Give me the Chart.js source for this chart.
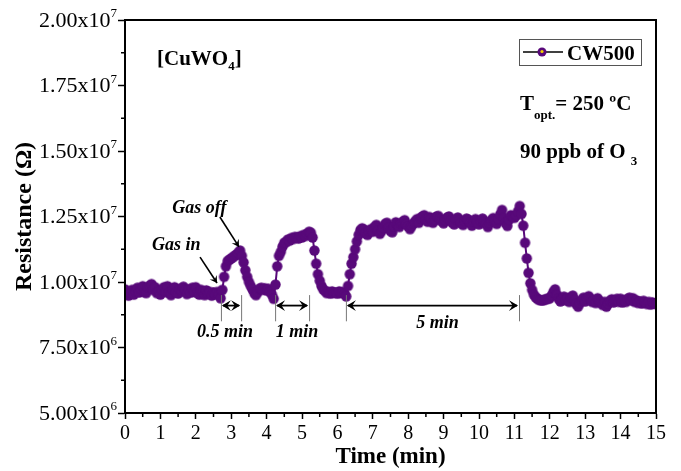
<!DOCTYPE html>
<html>
<head>
<meta charset="utf-8">
<script src="https://cdn.jsdelivr.net/npm/chart.js@4.4.1/dist/chart.umd.min.js"></script>
<style>
  html, body { margin: 0; padding: 0; background: #fff; }
  #wrap { width: 681px; height: 471px; }
</style>
</head>
<body>
<div id="wrap"><canvas id="sensorChart" width="681" height="471"></canvas></div>
<script>
// --- data ---
// readings logged every 3 s (0.05 min), resistance in MOhm
const TIME_STEP = 0.05;
const resistanceMOhm = [
  9.72, 9.55, 9.48, 9.62, 9.70, 9.52, 9.66, 9.78, 9.60, 9.74, 9.84, 9.62, 9.58, 9.80, 9.86, 9.92, 9.70, 9.80, 9.58, 9.66,
  9.52, 9.70, 9.80, 9.62, 9.84, 9.58, 9.50, 9.72, 9.80, 9.60, 9.56, 9.74, 9.64, 9.82, 9.68, 9.54, 9.72, 9.60, 9.78, 9.62,
  9.80, 9.58, 9.52, 9.70, 9.64, 9.50, 9.68, 9.56, 9.62, 9.48, 9.60, 9.54, 9.62, 9.50, 9.38, 9.70, 10.20, 10.60, 10.80, 10.85,
  10.90, 10.95, 11.00, 11.05, 11.12, 11.20, 11.00, 10.75, 10.45, 10.20, 10.00, 9.85, 9.72, 9.58, 9.50, 9.62, 9.74, 9.78, 9.70, 9.76,
  9.68, 9.74, 9.62, 9.52, 9.36, 9.90, 10.60, 11.00, 11.15, 11.35, 11.50, 11.52, 11.62, 11.58, 11.68, 11.64, 11.72, 11.70, 11.66, 11.75,
  11.70, 11.80, 11.76, 11.85, 11.92, 11.88, 11.70, 11.20, 10.70, 10.30, 10.05, 9.85, 9.72, 9.66, 9.58, 9.62, 9.56, 9.64, 9.58, 9.60,
  9.56, 9.64, 9.58, 9.62, 9.56, 9.45, 9.85, 10.30, 10.70, 10.95, 11.25, 11.55, 11.80, 11.98, 12.05, 12.00, 11.86, 11.80, 11.95, 12.02,
  11.92, 12.10, 12.18, 11.96, 11.84, 11.96, 12.08, 12.22, 12.26, 12.08, 11.95, 11.90, 12.12, 12.28, 12.18, 12.10, 12.24, 12.30, 12.36, 12.20,
  12.12, 12.02, 12.14, 12.24, 12.32, 12.40, 12.26, 12.44, 12.50, 12.55, 12.38, 12.30, 12.48, 12.42, 12.26, 12.36, 12.50, 12.52, 12.40, 12.32,
  12.24, 12.38, 12.46, 12.50, 12.34, 12.26, 12.20, 12.40, 12.46, 12.36, 12.24, 12.18, 12.34, 12.42, 12.38, 12.26, 12.15, 12.30, 12.40, 12.28,
  12.20, 12.34, 12.42, 12.30, 12.22, 12.10, 12.26, 12.36, 12.44, 12.32, 12.22, 12.40, 12.58, 12.75, 12.45, 12.26, 12.14, 12.38, 12.55, 12.50,
  12.45, 12.55, 12.70, 12.90, 12.60, 12.15, 11.50, 10.90, 10.35, 9.95, 9.70, 9.52, 9.42, 9.36, 9.32, 9.30, 9.30, 9.32, 9.35, 9.36,
  9.38, 9.48, 9.62, 9.72, 9.52, 9.36, 9.26, 9.34, 9.44, 9.30, 9.38, 9.24, 9.42, 9.48, 9.32, 9.16, 9.06, 9.20, 9.30, 9.40,
  9.26, 9.38, 9.46, 9.36, 9.24, 9.30, 9.20, 9.38, 9.28, 9.20, 9.12, 9.24, 9.06, 9.18, 9.28, 9.34, 9.22, 9.30, 9.36, 9.24,
  9.36, 9.22, 9.30, 9.24, 9.36, 9.40, 9.30, 9.38, 9.24, 9.30, 9.20, 9.26, 9.18, 9.28, 9.22, 9.16, 9.24, 9.14, 9.22, 9.18,
  9.16
];

const seriesName = "CW500";
const yTickValues = [5e6, 7.5e6, 1e7, 1.25e7, 1.5e7, 1.75e7, 2e7];
const yTickMantissa = ["5.00x10", "7.50x10", "1.00x10", "1.25x10", "1.50x10", "1.75x10", "2.00x10"];
const yTickExponent = ["6", "6", "7", "7", "7", "7", "7"];

// gas pulse durations marked under the curve (start, end in min)
const pulseLabels = ["0.5 min", "1 min", "5 min"];
const pulseStart = [2.71, 4.24, 6.24];
const pulseEnd = [3.28, 5.20, 11.13];

const SERIF = '"Liberation Serif", "Times New Roman", serif';
const PURPLE = "#58097a";
const YELLOW = "#f2d200";

const points = resistanceMOhm.map((r, i) => ({ x: i * TIME_STEP, y: r * 1e6 }));

// purple ball marker
function makeBall(radius) {
  const c = document.createElement("canvas");
  const s = Math.ceil(radius * 2 + 2);
  c.width = s; c.height = s;
  const g = c.getContext("2d");
  g.fillStyle = PURPLE;
  g.beginPath();
  g.arc(s / 2, s / 2, radius, 0, Math.PI * 2);
  g.fill();
  return c;
}
const ball = makeBall(5.2);

// draw a run of text pieces (for sub/superscripts)
function drawParts(ctx, x, y, parts) {
  let cx = x;
  parts.forEach((p) => {
    ctx.font = p.font;
    ctx.fillText(p.text, cx, y + (p.dy || 0));
    cx += ctx.measureText(p.text).width + (p.gap || 0);
  });
}

function arrowHead(ctx, x, y, angle, size) {
  ctx.save();
  ctx.translate(x, y);
  ctx.rotate(angle);
  ctx.beginPath();
  ctx.moveTo(0, 0);
  ctx.lineTo(-size, -size * 0.6);
  ctx.lineTo(-size * 0.6, 0);
  ctx.lineTo(-size, size * 0.6);
  ctx.closePath();
  ctx.fill();
  ctx.restore();
}

function arrow(ctx, x1, y1, x2, y2) {
  ctx.beginPath();
  ctx.moveTo(x1, y1);
  ctx.lineTo(x2, y2);
  ctx.stroke();
  arrowHead(ctx, x2, y2, Math.atan2(y2 - y1, x2 - x1), 7);
}

const decorations = {
  id: "decorations",
  afterDraw(chart) {
    const { ctx, chartArea: a, scales: { x, y } } = chart;
    ctx.save();
    ctx.fillStyle = "#000";
    ctx.strokeStyle = "#000";

    // box around plot
    ctx.lineWidth = 2;
    ctx.strokeRect(a.left, a.top, a.right - a.left, a.bottom - a.top);

    // minor ticks
    ctx.lineWidth = 1.5;
    ctx.beginPath();
    for (let t = 0.5; t < 15; t += 1) {
      const px = x.getPixelForValue(t);
      ctx.moveTo(px, a.bottom);
      ctx.lineTo(px, a.bottom + 4);
    }
    for (let v = 6.25e6; v < 2e7; v += 2.5e6) {
      const py = y.getPixelForValue(v);
      ctx.moveTo(a.left, py);
      ctx.lineTo(a.left - 4, py);
    }
    ctx.stroke();

    // y tick labels with powers of ten
    yTickValues.forEach((v, i) => {
      const py = y.getPixelForValue(v);
      ctx.font = "13px " + SERIF;
      const ew = ctx.measureText(yTickExponent[i]).width;
      const right = a.left - 8;
      ctx.textAlign = "right";
      ctx.textBaseline = "middle";
      ctx.font = "22px " + SERIF;
      ctx.fillText(yTickMantissa[i], right - ew, py + 1);
      ctx.textAlign = "left";
      ctx.textBaseline = "alphabetic";
      ctx.font = "13px " + SERIF;
      ctx.fillText(yTickExponent[i], right - ew, py - 3);
    });

    ctx.textAlign = "left";
    ctx.textBaseline = "alphabetic";
    const B21 = "bold 21px " + SERIF;
    const B13 = "bold 13px " + SERIF;

    // sample name
    drawParts(ctx, a.left + 32, a.top + 45, [
      { text: "[CuWO", font: B21 },
      { text: "4", font: B13, dy: 5 },
      { text: "]", font: B21 },
    ]);

    // legend
    const lx = a.right - 137, ly = a.top + 19;
    ctx.lineWidth = 1;
    ctx.strokeStyle = "#555";
    ctx.strokeRect(lx + 0.5, ly + 0.5, 122, 26);
    ctx.strokeStyle = "#000";
    ctx.lineWidth = 1.5;
    ctx.beginPath();
    ctx.moveTo(lx + 4, ly + 13);
    ctx.lineTo(lx + 44, ly + 13);
    ctx.stroke();
    ctx.fillStyle = PURPLE;
    ctx.beginPath();
    ctx.arc(lx + 23, ly + 13, 4.5, 0, Math.PI * 2);
    ctx.fill();
    ctx.fillStyle = YELLOW;
    ctx.beginPath();
    ctx.arc(lx + 23, ly + 12.5, 1.6, 0, Math.PI * 2);
    ctx.fill();
    ctx.fillStyle = "#000";
    ctx.font = B21;
    ctx.fillText(seriesName, lx + 48, ly + 21);

    // test conditions
    drawParts(ctx, a.right - 136, a.top + 90, [
      { text: "T", font: B21 },
      { text: "opt.", font: B13, dy: 9 },
      { text: "= 250 \u00baC", font: B21 },
    ]);
    drawParts(ctx, a.right - 136, a.top + 138, [
      { text: "90 ppb of O ", font: B21 },
      { text: "3", font: B13, dy: 7 },
    ]);

    // gas in / gas off callouts
    const BI = "italic bold 18px " + SERIF;
    ctx.font = BI;
    ctx.textAlign = "center";
    ctx.fillText("Gas off", x.getPixelForValue(2.10), y.getPixelForValue(12.63e6));
    ctx.fillText("Gas in", x.getPixelForValue(1.45), y.getPixelForValue(11.22e6));
    ctx.lineWidth = 1.6;
    arrow(ctx, x.getPixelForValue(2.68), y.getPixelForValue(12.48e6),
               x.getPixelForValue(3.22), y.getPixelForValue(11.34e6));
    arrow(ctx, x.getPixelForValue(2.12), y.getPixelForValue(10.95e6),
               x.getPixelForValue(2.60), y.getPixelForValue(9.96e6));

    // pulse duration brackets
    pulseLabels.forEach((label, i) => {
      const x1 = x.getPixelForValue(pulseStart[i]);
      const x2 = x.getPixelForValue(pulseEnd[i]);
      const yTop = y.getPixelForValue(9.5e6);
      const yBot = y.getPixelForValue(8.5e6);
      const yArr = y.getPixelForValue(9.1e6);
      ctx.strokeStyle = "#777";
      ctx.lineWidth = 1;
      ctx.beginPath();
      ctx.moveTo(x1 + 0.5, yTop); ctx.lineTo(x1 + 0.5, yBot);
      ctx.moveTo(x2 + 0.5, yTop); ctx.lineTo(x2 + 0.5, yBot);
      ctx.stroke();
      ctx.strokeStyle = "#000";
      ctx.lineWidth = 1.8;
      ctx.beginPath();
      ctx.moveTo(x1 + 2, yArr); ctx.lineTo(x2 - 2, yArr);
      ctx.stroke();
      arrowHead(ctx, x1 + 1, yArr, Math.PI, 9);
      arrowHead(ctx, x2 - 1, yArr, 0, 9);
      ctx.font = BI;
      ctx.textAlign = "center";
      const ty = i === 2 ? y.getPixelForValue(8.24e6) : y.getPixelForValue(7.9e6);
      const tx = i === 0 ? x1 + 4 : (x1 + x2) / 2 + 5;
      ctx.fillText(label, tx, ty);
    });
    ctx.restore();
  },
};

new Chart(document.getElementById("sensorChart"), {
  type: "scatter",
  data: {
    datasets: [
      {
        label: seriesName,
        data: points,
        showLine: true,
        borderColor: PURPLE,
        borderWidth: 2,
        pointStyle: ball,
        pointRadius: 5.2,
      },
      {
        // highlights on the balls
        label: "highlight",
        data: points,
        showLine: false,
        pointBackgroundColor: YELLOW,
        pointBorderWidth: 0,
        pointRadius: (c) => {
          const i = c.dataIndex;
          const prev = resistanceMOhm[i - 1];
          const steep = prev !== undefined && Math.abs(resistanceMOhm[i] - prev) > 0.2;
          return i % 4 === 1 || steep ? 1.7 : 0;
        },
      },
    ],
  },
  options: {
    responsive: false,
    animation: false,
    devicePixelRatio: 1,
    layout: { padding: { top: 20, right: 25, left: 0, bottom: 0 } },
    plugins: { legend: { display: false }, tooltip: { enabled: false } },
    scales: {
      x: {
        type: "linear",
        min: 0,
        max: 15,
        ticks: { stepSize: 1, autoSkip: false, color: "#000", font: { family: SERIF, size: 20 }, padding: 3, maxRotation: 0 },
        grid: { drawOnChartArea: false, tickLength: 6, tickColor: "#000", tickWidth: 1.5 },
        border: { display: true, color: "#000", width: 2 },
        title: { display: true, text: "Time (min)", color: "#000", font: { family: SERIF, size: 23, weight: "bold" }, padding: 0 },
        afterFit: (s) => { s.height = 58; },
      },
      y: {
        type: "linear",
        min: 5e6,
        max: 2e7,
        ticks: { stepSize: 2.5e6, callback: () => "" },
        grid: { drawOnChartArea: false, tickLength: 7, tickColor: "#000", tickWidth: 1.5 },
        border: { display: true, color: "#000", width: 2 },
        title: { display: true, text: "Resistance (\u03a9)", color: "#000", font: { family: SERIF, size: 24, weight: "bold" }, padding: { top: 10 } },
        afterFit: (s) => { s.width = 125; },
      },
    },
  },
  plugins: [decorations],
});
</script>
</body>
</html>
